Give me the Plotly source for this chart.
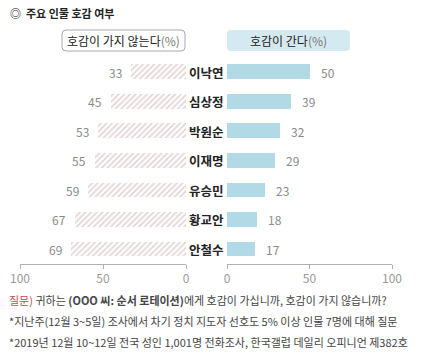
import plotly.graph_objects as go

names = ["이낙연", "심상정", "박원순", "이재명", "유승민", "황교안", "안철수"]
dislike = [33, 45, 53, 55, 59, 67, 69]
like = [50, 39, 32, 29, 23, 18, 17]
ticks = [0, 50, 100]

W, H = 430, 353
FONT = "Noto Sans CJK KR"
idx = list(range(len(names)))

def px(x):
    return x / W

def py(y):
    return 1 - y / H

fig = go.Figure()
fig.add_trace(go.Bar(
    x=dislike, y=idx, orientation="h", xaxis="x", yaxis="y",
    width=0.5,
    marker=dict(color="white", line=dict(width=0),
                pattern=dict(shape="/", fgcolor="#c6a6a6", bgcolor="white", size=4, solidity=0.4)),
    hoverinfo="skip", showlegend=False,
))
fig.add_trace(go.Bar(
    x=like, y=idx, orientation="h", xaxis="x2", yaxis="y",
    width=0.5, marker=dict(color="#b2d9e6", line=dict(width=0)),
    hoverinfo="skip", showlegend=False,
))

ann = []
for i, n in enumerate(names):
    ann.append(dict(x=px(206), y=i, xref="paper", yref="y", text=f"<b>{n}</b>", showarrow=False,
                    font=dict(family=FONT, size=12.5, color="#222"), xanchor="center", yanchor="middle"))
    ann.append(dict(x=dislike[i], y=i, xref="x", yref="y", text=str(dislike[i]), showarrow=False,
                    xanchor="right", xshift=-7, font=dict(family=FONT, size=12, color="#8a8a8a")))
    ann.append(dict(x=like[i], y=i, xref="x2", yref="y", text=str(like[i]), showarrow=False,
                    xanchor="left", xshift=9, font=dict(family=FONT, size=12, color="#8a8a8a")))

ann.append(dict(x=px(8), y=py(13), xref="paper", yref="paper", text="<b>◎  주요 인물 호감 여부</b>",
                showarrow=False, xanchor="left", yanchor="middle",
                font=dict(family=FONT, size=11, color="#222")))
ann.append(dict(x=px(123.5), y=py(40.5), xref="paper", yref="paper", text="호감이 가지 않는다<span style='color:#777'>(%)</span>",
                showarrow=False, xanchor="center", yanchor="middle",
                font=dict(family=FONT, size=12, color="#222")))
ann.append(dict(x=px(288.5), y=py(40.5), xref="paper", yref="paper", text="호감이 간다<span style='color:#777'>(%)</span>",
                showarrow=False, xanchor="center", yanchor="middle",
                font=dict(family=FONT, size=12, color="#222")))

foot = [
    "<span style='color:#c0504d'>질문)</span> 귀하는 <b>(OOO 씨: 순서 로테이션)</b>에게 호감이 가십니까, 호감이 가지 않습니까?",
    "*지난주(12월 3~5일) 조사에서 차기 정치 지도자 선호도 5% 이상 인물 7명에 대해 질문",
    "*2019년 12월 10~12일 전국 성인 1,001명 전화조사, 한국갤럽 데일리 오피니언 제382호",
]
for t, yy in zip(foot, [300, 321, 342]):
    ann.append(dict(x=px(7), y=py(yy), xref="paper", yref="paper", text=t, showarrow=False,
                    xanchor="left", yanchor="middle",
                    font=dict(family=FONT, size=11, color="#444")))

def rrect(x0, y0, x1, y1, r):
    X0, X1 = px(x0), px(x1)
    Y0, Y1 = py(y0), py(y1)
    rx, ry = r / W, r / H
    return (f"M{X0+rx},{Y0} L{X1-rx},{Y0} Q{X1},{Y0} {X1},{Y0-ry} L{X1},{Y1+ry} "
            f"Q{X1},{Y1} {X1-rx},{Y1} L{X0+rx},{Y1} Q{X0},{Y1} {X0},{Y1+ry} L{X0},{Y0-ry} Q{X0},{Y0} {X0+rx},{Y0} Z")

shapes = [
    dict(type="path", xref="paper", yref="paper", path=rrect(62, 30, 185, 51, 4),
         line=dict(color="#a8a8a8", width=1), fillcolor="white", layer="below"),
    dict(type="path", xref="paper", yref="paper", path=rrect(227, 30, 350, 51, 4),
         line=dict(width=0), fillcolor="#d5e9f0", layer="below"),
]

axis_common = dict(tickvals=ticks, ticktext=[str(t) for t in ticks], showgrid=False, zeroline=False,
                   showline=True, linecolor="#b0b0b0", linewidth=1, ticks="outside", ticklen=4,
                   tickcolor="#b0b0b0", tickfont=dict(family=FONT, size=12, color="#999"),
                   anchor="y", fixedrange=True, automargin=False)

fig.update_layout(
    width=W, height=H, margin=dict(l=0, r=0, t=0, b=0, autoexpand=False),
    paper_bgcolor="white", plot_bgcolor="white",
    xaxis=dict(domain=[px(20), px(186)], range=[100, 0], **axis_common),
    xaxis2=dict(domain=[px(227), px(392)], range=[0, 100], **axis_common),
    yaxis=dict(domain=[py(264), py(57.25)], range=[6.5, -0.5], showticklabels=False,
               showgrid=False, zeroline=False, showline=False, fixedrange=True, automargin=False),
    annotations=ann, shapes=shapes, bargap=0,
)

fig.write_html("out.html")
